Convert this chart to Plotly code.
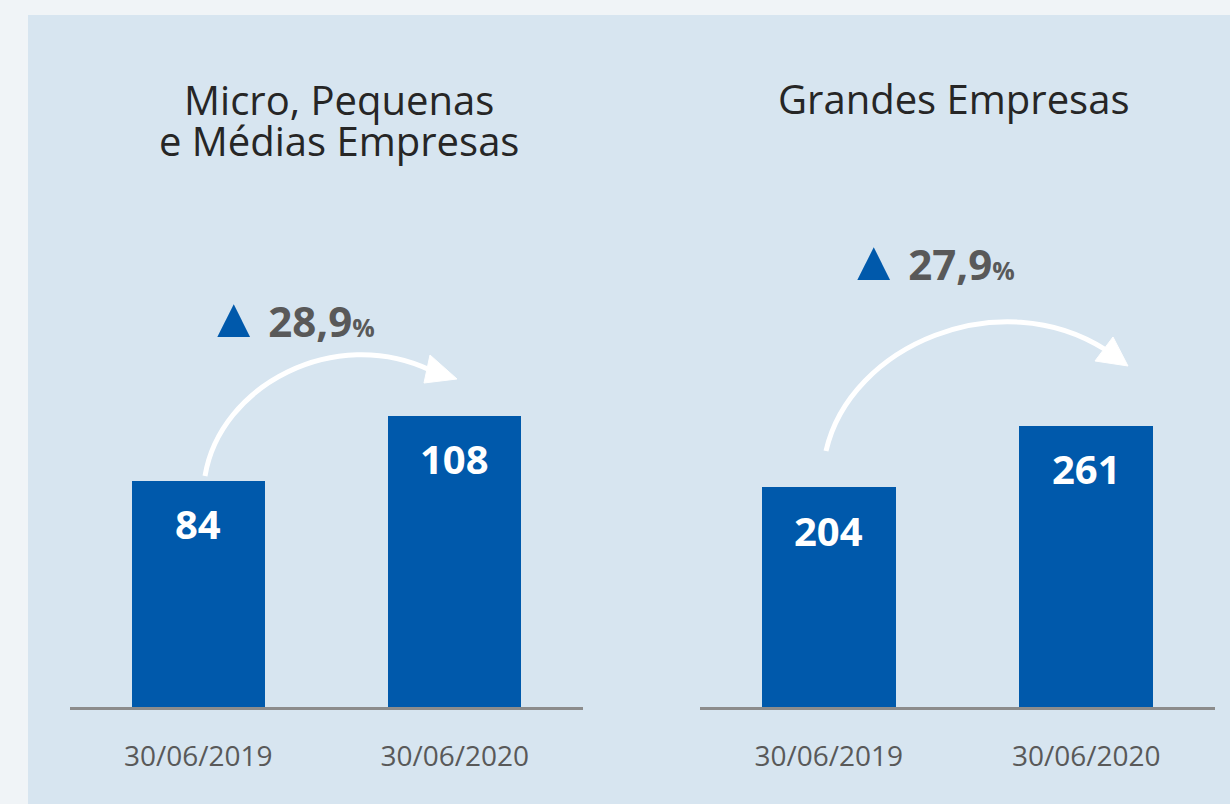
import plotly.graph_objects as go

# data
dates = ["30/06/2019", "30/06/2020"]
pme_values = [84, 108]
ge_values = [204, 261]
title_pme = ["Micro, Pequenas", "e Médias Empresas"]
title_ge = "Grandes Empresas"
growth_labels = ["28,9", "27,9"]

W, H = 1230, 804
BLUE = "#0059ab"
GREY_TXT = "#595959"
FONT = "Open Sans, Noto Sans, sans-serif"


def px_x(x):
    return x / W


def px_y(y):
    return 1 - y / H


fig = go.Figure()

panels = [("x", "y", pme_values), ("x2", "y2", ge_values)]
for xa, ya, vals in panels:
    fig.add_trace(
        go.Bar(
            x=[0, 1],
            y=vals,
            width=0.52,
            marker=dict(color=BLUE, line=dict(width=0)),
            xaxis=xa,
            yaxis=ya,
            hoverinfo="skip",
            showlegend=False,
        )
    )

# value labels inside the bars, just below the top
annotations = []
for xa, ya, vals in panels:
    for i, v in enumerate(vals):
        annotations.append(
            dict(
                x=i, y=v, xref=xa, yref=ya,
                text=f"<b>{v}</b>",
                showarrow=False,
                xanchor="center",
                yanchor="middle",
                yshift=-43,
                font=dict(family=FONT, size=40, color="white"),
            )
        )

# titles: small base size sets the tight line spacing, span sets glyph size
annotations.append(dict(
    x=px_x(339), y=px_y(120), xref="paper", yref="paper",
    text="<br>".join(f"<span style='font-size:40px'>{t}</span>" for t in title_pme),
    showarrow=False, xanchor="center", yanchor="middle",
    font=dict(family=FONT, size=31.5, color="#262626"),
))
annotations.append(dict(
    x=px_x(953), y=px_y(99), xref="paper", yref="paper",
    text=title_ge, showarrow=False, xanchor="center", yanchor="middle",
    font=dict(family=FONT, size=40, color="#262626"),
))

# growth labels
for (cx, cy), lab in zip([(290, 315), (930, 258)], growth_labels):
    annotations.append(dict(
        x=px_x(cx), y=px_y(cy), xref="paper", yref="paper",
        text=(f"<span style='color:{BLUE};font-size:56px'>▲</span>"
              f"<span style='font-size:26px'> </span><b>{lab}</b>"
              f"<b style='font-size:25px'>%</b>"),
        showarrow=False, xanchor="center", yanchor="middle",
        font=dict(family=FONT, size=42, color=GREY_TXT),
    ))


def bez(p0, p1, p2, p3):
    s = [f"{px_x(x):.5f},{px_y(y):.5f}" for x, y in (p0, p1, p2, p3)]
    return f"M {s[0]} C {s[1]} {s[2]} {s[3]}"


def tri(a, b, c):
    s = [f"{px_x(x):.5f},{px_y(y):.5f}" for x, y in (a, b, c)]
    return f"M {s[0]} L {s[1]} L {s[2]} Z"


shapes = [
    # light blue panel
    dict(type="rect", xref="paper", yref="paper",
         x0=px_x(28), x1=1, y0=0, y1=px_y(15),
         fillcolor="#d7e5f0", line=dict(width=0), layer="below"),
    # curved arrows
    dict(type="path", xref="paper", yref="paper",
         path=bez((205, 476), (220, 385), (335, 325), (430, 370)),
         line=dict(color="white", width=5)),
    dict(type="path", xref="paper", yref="paper",
         path=tri((457, 379), (430, 355), (424, 383)),
         fillcolor="white", line=dict(color="white", width=1)),
    dict(type="path", xref="paper", yref="paper",
         path=bez((826, 451), (850, 345), (1000, 282), (1106, 350)),
         line=dict(color="white", width=5)),
    dict(type="path", xref="paper", yref="paper",
         path=tri((1128, 366), (1113, 337), (1095, 361)),
         fillcolor="white", line=dict(color="white", width=1)),
]

xaxis_common = dict(
    range=[-0.5, 1.5],
    tickvals=[0, 1],
    ticktext=dates,
    showline=True,
    linecolor="#8c8c8c",
    linewidth=3,
    showgrid=False,
    zeroline=False,
    ticks="",
    ticklabelstandoff=22,
    tickfont=dict(family=FONT, size=28, color=GREY_TXT),
    fixedrange=True,
)
yaxis_common = dict(visible=False, fixedrange=True)

y_dom = [px_y(707), px_y(60)]

fig.update_layout(
    width=W,
    height=H,
    margin=dict(l=0, r=0, t=0, b=0),
    paper_bgcolor="#f0f4f7",
    plot_bgcolor="rgba(0,0,0,0)",
    font=dict(family=FONT),
    xaxis=dict(domain=[px_x(70), px_x(583)], anchor="y", **xaxis_common),
    xaxis2=dict(domain=[px_x(700), px_x(1215)], anchor="y2", **xaxis_common),
    yaxis=dict(domain=y_dom, range=[0, 240], anchor="x", **yaxis_common),
    yaxis2=dict(domain=y_dom, range=[0, 600], anchor="x2", **yaxis_common),
    annotations=annotations,
    shapes=shapes,
    bargap=0,
)

# drop the default page margin so the figure sits at the window origin
fig.write_html(
    "out.html",
    config={"displayModeBar": False},
    post_script="document.body.style.margin = '0';",
)
